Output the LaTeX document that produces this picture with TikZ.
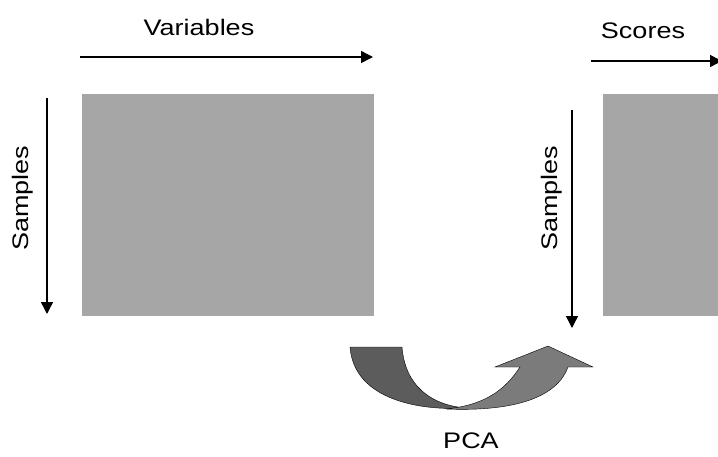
\documentclass[tikz,border=0pt]{standalone}
\usepackage{fontspec}
\newfontfamily\lblfont[FakeStretch=1.2]{Liberation Sans}
\usetikzlibrary{arrows.meta}
\definecolor{matgray}{HTML}{A6A6A6}
\definecolor{pcadark}{HTML}{5C5C5C}
\definecolor{pcalight}{HTML}{7B7B7B}
\tikzset{
  axis/.style={line width=1.4pt,-{Triangle[length=12pt,width=12pt]}},
  lbl/.style={font=\lblfont\fontsize{22.5}{26}\selectfont,inner sep=0pt},
}
\begin{document}
\begin{tikzpicture}[x=1pt,y=-1pt]
			\useasboundingbox (0,0) rectangle (718,456);
			\def\top{94}
			\def\bot{316}
			% data matrix and scores matrix
			\fill[matgray] (82,\top) rectangle (374,\bot);
			\fill[matgray] (603,\top) rectangle (718,\bot);
			\coordinate (V1) at (80,57);
			\coordinate (V2) at (373,57);
			\coordinate (S1) at (47,98);
			\coordinate (S2) at (47,314);
			\coordinate (T1) at (591,61);
			\coordinate (T2) at (722,61);
			\coordinate (R1) at (572,110);
			\coordinate (R2) at (572,328);
			\draw[axis] (V1) -- (V2);
			\draw[axis] (S1) -- (S2);
			\draw[axis] (T1) -- (T2);
			\draw[axis] (R1) -- (R2);
			\node[lbl] (var) at (199,27) {Variables};
			\node[lbl,rotate=90] (smp) at (23,198) {Samples};
			\node[lbl] (sco) at (643,31) {Scores};
			\node[lbl,rotate=90] (smp2) at (552,198) {Samples};
			% PCA arrow
			\fill[pcadark,draw=black,thin] (350,347) -- (402,347)
			.. controls (405,385) and (430,405) .. (466,408)
			.. controls (420,411) and (354,400) .. (350,347) -- cycle;
			\fill[pcalight,draw=black,thin] (446,409)
			.. controls (520,412) and (558,395) .. (568,367)
			-- (593,367) -- (548,346) -- (495,367) -- (520,367)
			.. controls (505,390) and (485,405) .. (446,409) -- cycle;
			\node[lbl] (pca) at (471,441) {PCA};
		\end{tikzpicture}
\end{document}
